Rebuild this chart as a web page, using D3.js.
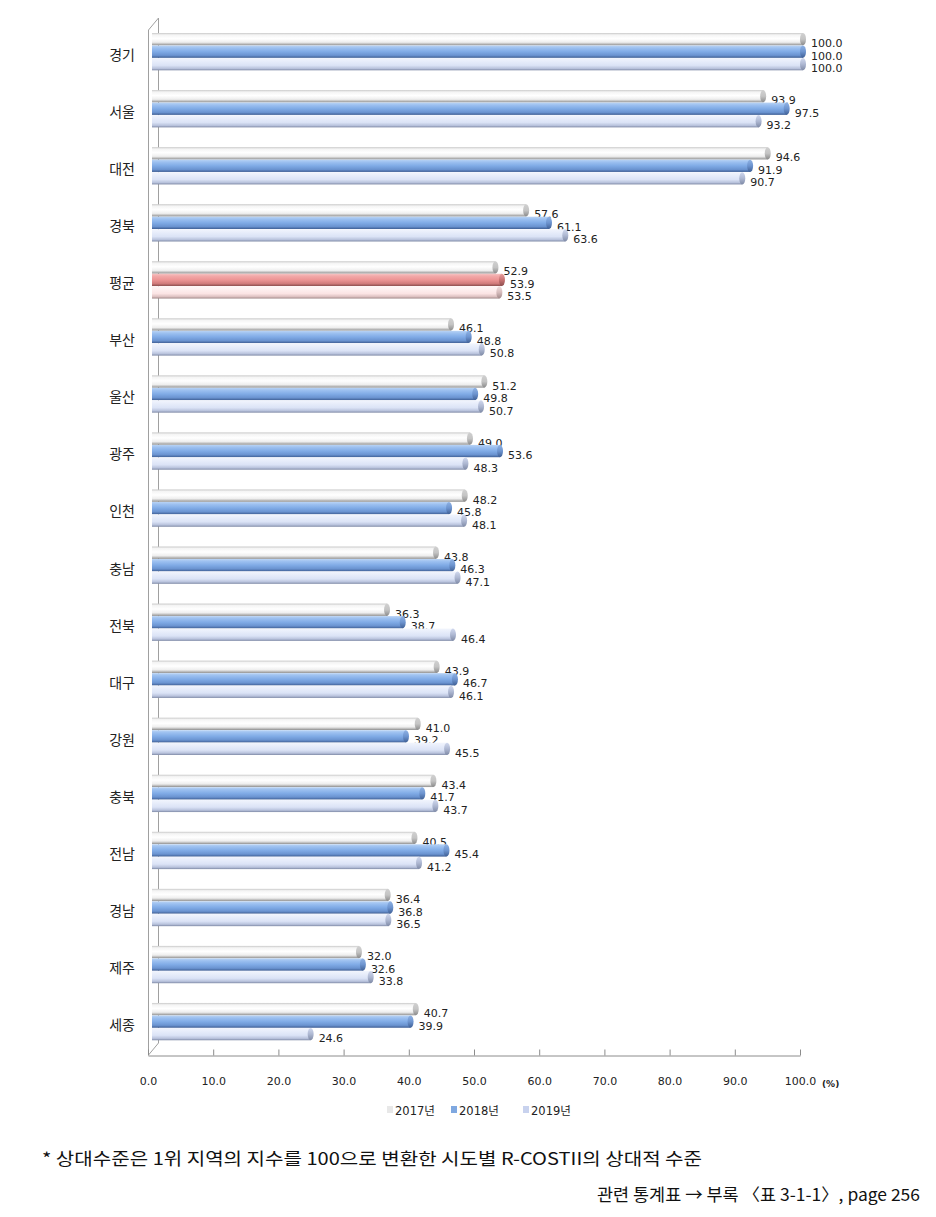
<!DOCTYPE html>
<html><head><meta charset="utf-8">
<script src="https://cdn.jsdelivr.net/npm/d3@7"></script>
<style>body{margin:0;background:#fff}svg{display:block}</style>
</head><body>
<svg id="chart" width="936" height="1217"></svg>
<script>
const categories = ["경기","서울","대전","경북","평균","부산","울산","광주","인천","충남","전북","대구","강원","충북","전남","경남","제주","세종"];
const series = ["2017년","2018년","2019년"];
const values2017 = [100.0,93.9,94.6,57.6,52.9,46.1,51.2,49.0,48.2,43.8,36.3,43.9,41.0,43.4,40.5,36.4,32.0,40.7];
const values2018 = [100.0,97.5,91.9,61.1,53.9,48.8,49.8,53.6,45.8,46.3,38.7,46.7,39.2,41.7,45.4,36.8,32.6,39.9];
const values2019 = [100.0,93.2,90.7,63.6,53.5,50.8,50.7,48.3,48.1,47.1,46.4,46.1,45.5,43.7,41.2,36.5,33.8,24.6];
const ticks = [0,10,20,30,40,50,60,70,80,90,100];
const footnote1 = "* 상대수준은 1위 지역의 지수를 100으로 변환한 시도별 R-COSTII의 상대적 수준";
const footnote2 = "관련 통계표 → 부록 〈표 3-1-1〉, page 256";
const unitLabel = "(%)";
const highlight = "평균";

const allValues = [values2017, values2018, values2019];
const svg = d3.select("#chart");
const numFont = "'DejaVu Sans','Noto Sans CJK KR',sans-serif";
const korFont = "'Noto Sans CJK KR','Noto Sans',sans-serif";

// scales
const xFront = d3.scaleLinear().domain([0,100]).range([148,800]);
const xBack = d3.scaleLinear().domain([0,100]).range([152,805]);
const yBand = d3.scaleBand().domain(categories).range([26.5,1053.5]);
const yInner = d3.scaleBand().domain(series).range([0,37.5]);

// gradients
const defs = svg.append("defs");
function grad(id, stops){
  const g = defs.append("linearGradient").attr("id",id).attr("x1",0).attr("y1",0).attr("x2",0).attr("y2",1);
  stops.forEach(s=>g.append("stop").attr("offset",s[0]).attr("stop-color",s[1]));
}
grad("g2017",[[0,"#c8c8c8"],[0.15,"#f4f4f4"],[0.45,"#ffffff"],[0.75,"#eeeeee"],[0.9,"#b8b8b8"],[1,"#8c8c8c"]]);
grad("g2018",[[0,"#b9d3f4"],[0.2,"#9cc0f0"],[0.5,"#80abe6"],[0.8,"#6a93d0"],[1,"#3f5f95"]]);
grad("g2019",[[0,"#f2f5fd"],[0.3,"#e6ecfa"],[0.6,"#dbe3f6"],[0.85,"#b8c2dc"],[1,"#7f8aa6"]]);
grad("gAvg2018",[[0,"#f5c2c2"],[0.2,"#f2a8a8"],[0.5,"#ec9494"],[0.8,"#d07a7a"],[1,"#8c4d4d"]]);
grad("gAvg2019",[[0,"#fff6f6"],[0.3,"#fdeeee"],[0.6,"#fbe4e4"],[0.85,"#dcc0c0"],[1,"#a08888"]]);
grad("cap2017",[[0,"#d0d0d0"],[0.5,"#c4c4c4"],[1,"#8a8a8a"]]);
grad("cap2018",[[0,"#8fb2e4"],[0.5,"#6d94cf"],[1,"#3f5f95"]]);
grad("cap2019",[[0,"#d0d8ee"],[0.5,"#aeb8d2"],[1,"#7f8aa6"]]);
grad("capAvg2018",[[0,"#e8a0a0"],[0.5,"#c87272"],[1,"#8c4d4d"]]);
grad("capAvg2019",[[0,"#f0dede"],[0.5,"#d6bcbc"],[1,"#a08888"]]);

// wall / axis lines
const wall = svg.append("g").attr("stroke","#a0a0a0").attr("fill","none").attr("stroke-width",1);
wall.append("line").attr("x1",148.5).attr("y1",30).attr("x2",148.5).attr("y2",1055);
wall.append("line").attr("x1",148.5).attr("y1",30).attr("x2",158.5).attr("y2",18);
wall.append("line").attr("x1",158.5).attr("y1",18).attr("x2",158.5).attr("y2",1043);
wall.append("line").attr("x1",148.5).attr("y1",1055).attr("x2",158.5).attr("y2",1043);

// x axis
const axisG = svg.append("g").attr("transform","translate(0,1055.5)");
axisG.call(d3.axisBottom(xFront).tickValues(ticks).tickSize(0).tickFormat(d3.format(".1f")));
axisG.select(".domain").attr("stroke","#8c8c8c");
axisG.selectAll(".tick line").remove();
axisG.selectAll(".tick").append("line").attr("y1",0).attr("y2",-6).attr("stroke","#8c8c8c");
axisG.selectAll(".tick text").attr("y",22).attr("font-family",numFont).attr("font-size",11).attr("fill","#222");
svg.append("text").attr("x",822).attr("y",1087).attr("font-family",numFont).attr("font-size",9).attr("font-weight","bold").attr("fill","#222").text(unitLabel);

// category labels
svg.append("g").selectAll("text").data(categories).join("text")
  .attr("x",135).attr("y",d=>yBand(d)+yBand.bandwidth()/2+5)
  .attr("text-anchor","end").attr("font-family",korFont).attr("font-size",14).attr("fill","#222")
  .text(d=>d);

// bars
const barH = 12.3;
const groups = svg.append("g").selectAll("g").data(categories).join("g")
  .attr("transform",d=>`translate(0,${yBand(d)+yBand.bandwidth()/2-22})`);
groups.each(function(cat,i){
  const g = d3.select(this);
  series.forEach((s,k)=>{
    const v = allValues[k][i];
    const y = yInner(s);
    const isAvg = cat===highlight && k>0;
    const fillId = isAvg ? `gAvg${2017+k}` : `g${2017+k}`;
    const capId = isAvg ? `capAvg${2017+k}` : `cap${2017+k}`;
    const xe = xBack(v);
    g.append("rect").attr("x",xBack(0)).attr("y",y).attr("width",xe-xBack(0)-2).attr("height",barH)
      .attr("fill",`url(#${fillId})`);
    g.append("ellipse").attr("cx",xe-2).attr("cy",y+barH/2).attr("rx",3).attr("ry",barH/2)
      .attr("fill",`url(#${capId})`);
    g.append("text").attr("x",xe+6).attr("y",y+barH/2+8)
      .attr("font-family",numFont).attr("font-size",11).attr("fill","#222")
      .text(d3.format(".1f")(v));
  });
});

// legend
const legendColors = ["#e8e8e8","#7fa8e0","#c8d2ee"];
const legX = [387,451,523];
const leg = svg.append("g");
series.forEach((s,k)=>{
  leg.append("rect").attr("x",legX[k]).attr("y",1106).attr("width",6).attr("height",7).attr("fill",legendColors[k]);
  leg.append("text").attr("x",legX[k]+8).attr("y",1114.5).attr("font-family",numFont).attr("font-size",11.5).attr("fill","#222").text(s);
});

// footnotes
svg.append("text").attr("x",42).attr("y",1165).attr("font-family",korFont).attr("font-size",17).attr("fill","#111")
  .attr("textLength",660).attr("lengthAdjust","spacingAndGlyphs").text(footnote1);
svg.append("text").attr("x",597).attr("y",1201).attr("font-family",korFont).attr("font-size",17).attr("fill","#111")
  .attr("textLength",323).attr("lengthAdjust","spacingAndGlyphs").text(footnote2);
</script>
</body></html>
